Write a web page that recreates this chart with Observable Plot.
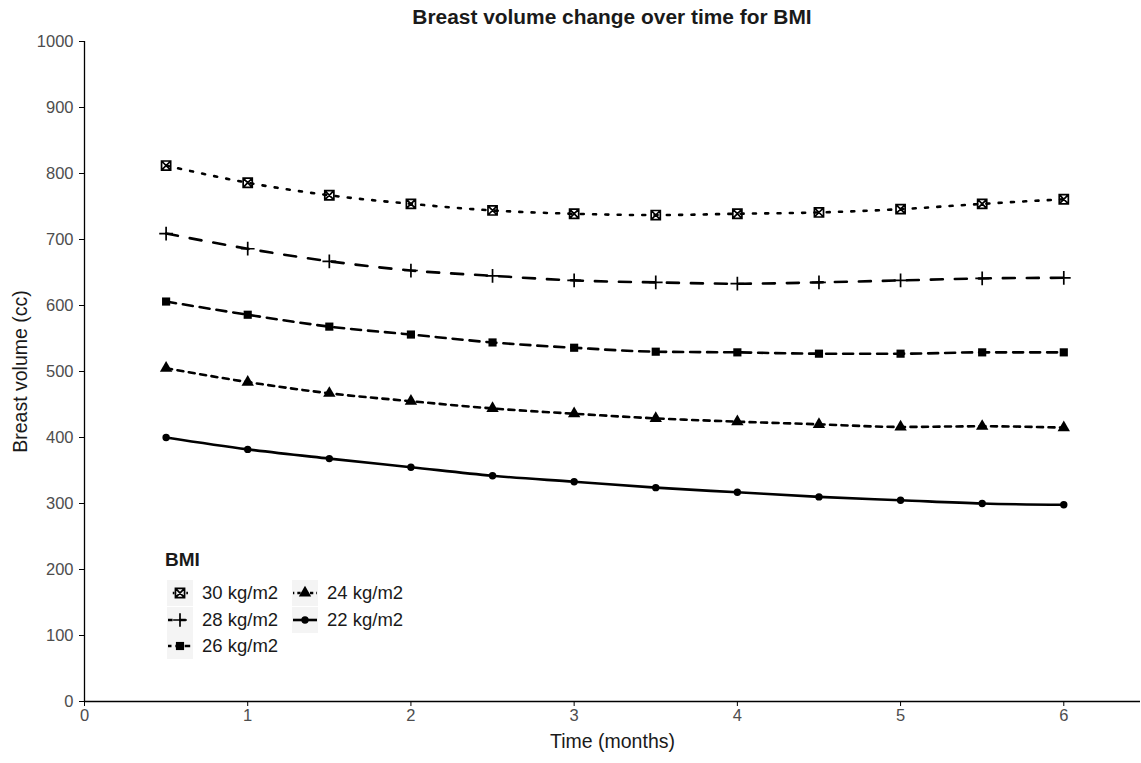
<!DOCTYPE html>
<html><head><meta charset="utf-8">
<script src="https://cdn.jsdelivr.net/npm/d3@7"></script>
<script src="https://cdn.jsdelivr.net/npm/@observablehq/plot@0.6"></script>
<style>
body{margin:0;background:#fff;font-family:"Liberation Sans",Arial,sans-serif;}
#wrap{position:relative;width:1141px;height:763px;overflow:hidden;}
#title{position:absolute;left:84px;width:1056px;top:4px;text-align:center;font-weight:bold;font-size:20.9px;color:#1a1a1a;line-height:26px;}
#legend{position:absolute;left:165px;top:548px;width:300px;height:120px;color:#1a1a1a;}
#legend .lt{position:absolute;left:0;top:0;font-weight:bold;font-size:19px;line-height:24px;}
#legend .it{position:absolute;font-size:18.5px;line-height:26px;white-space:nowrap;}
#legend svg{position:absolute;}
svg g[aria-label="y-axis tick label"] text, svg g[aria-label="x-axis tick label"] text{fill:#4d4d4d;}
svg g[aria-label="y-axis label"] text, svg g[aria-label="x-axis label"] text{font-size:19.5px;fill:#1a1a1a;}
</style></head><body>
<div id="wrap"><div id="chart"></div><div id="title">Breast volume change over time for BMI</div><div id="legend"></div></div>
<script>
const months = [0.5, 1, 1.5, 2, 2.5, 3, 3.5, 4, 4.5, 5, 5.5, 6];
const bmi30 = [812, 786, 767, 754, 744, 739, 737, 739, 741, 746, 754, 761];
const bmi28 = [709, 686, 667, 653, 645, 638, 635, 633, 635, 638, 641, 642];
const bmi26 = [606, 586, 568, 556, 544, 536, 530, 529, 527, 527, 529, 529];
const bmi24 = [505, 484, 467, 455, 444, 436, 429, 424, 420, 416, 417, 415];
const bmi22 = [400, 382, 368, 355, 342, 333, 324, 317, 310, 305, 300, 298];
const seriesNames = ["30 kg/m2", "28 kg/m2", "26 kg/m2", "24 kg/m2", "22 kg/m2"];
const seriesValues = [bmi30, bmi28, bmi26, bmi24, bmi22];
const xTicks = [0, 1, 2, 3, 4, 5, 6];
const yTicks = [0, 100, 200, 300, 400, 500, 600, 700, 800, 900, 1000];

// styles (not data)
const squareCross = {draw(ctx, size){ const h = Math.sqrt(size/Math.PI)*0.95;
  ctx.moveTo(-h,-h); ctx.lineTo(h,-h); ctx.lineTo(h,h); ctx.lineTo(-h,h); ctx.closePath();
  ctx.moveTo(-h,-h); ctx.lineTo(h,h); ctx.moveTo(h,-h); ctx.lineTo(-h,h);}};
const styles = [
  {dash:"3,9.3", symbol:squareCross, r:4.8, fill:"none", stroke:"#000", sw:1.7},
  {dash:"12,12", symbol:"plus", r:4.5, fill:"none", stroke:"#000", sw:1.7},
  {dash:"10,7", symbol:"square", r:4.6, fill:"#000", stroke:"none", sw:0},
  {dash:"6,5.5", symbol:"triangle", r:4.6, fill:"#000", stroke:"none", sw:0},
  {dash:null, symbol:"circle", r:3.7, fill:"#000", stroke:"none", sw:0}
];

const data = seriesNames.map((name, i) => months.map((m, j) => ({series: name, month: m, value: seriesValues[i][j]})));

const marks = [];
data.forEach((rows, i) => {
  const s = styles[i];
  marks.push(Plot.line(rows, {x:"month", y:"value", stroke:"#000", strokeWidth:2.6, strokeDasharray:s.dash, curve:"monotone-x"}));
});
data.forEach((rows, i) => {
  const s = styles[i];
  marks.push(Plot.dot(rows, {x:"month", y:"value", symbol:()=>s.symbol, r:s.r, fill:s.fill, stroke:s.stroke, strokeWidth:s.sw}));
});

const chart = Plot.plot({
  width: 1141, height: 763,
  marginLeft: 84, marginRight: 1, marginTop: 41, marginBottom: 62,
  style: {fontFamily: '"Liberation Sans", Arial, sans-serif', background: "#fff", overflow: "visible"},
  x: {domain: [0, 6.47]},
  y: {domain: [0, 1000]},
  symbol: {type: "identity"},
  marks: [
    Plot.axisX({ticks: xTicks, tickSize: 5, tickPadding: 3, fontSize: 16.5, tickFormat: d => String(d),
      label: "Time (months)", labelAnchor: "center", labelArrow: "none", labelOffset: 46}),
    Plot.axisY({ticks: yTicks, tickSize: 5, tickPadding: 6, fontSize: 16.5, tickFormat: d => String(d),
      label: "Breast volume (cc)", labelAnchor: "center", labelArrow: "none", labelOffset: 71}),
    Plot.ruleX([0], {stroke: "#000", strokeWidth: 1.3}),
    Plot.ruleY([0], {stroke: "#000", strokeWidth: 1.3}),
    ...marks
  ]
});
document.getElementById("chart").appendChild(chart);

// legend
const leg = d3.select("#legend");
leg.append("div").attr("class", "lt").text("BMI");
seriesNames.forEach((name, i) => {
  const col = i < 3 ? 0 : 1, row = i < 3 ? i : i - 3;
  const top = 32 + row * 26.5;
  const kx = col === 0 ? 2 : 127;
  const s = styles[i];
  const svg = leg.append("svg").attr("width", 26).attr("height", 26).style("left", kx + "px").style("top", top + "px");
  svg.append("rect").attr("width", 26).attr("height", 26).attr("fill", "#f4f4f4");
  svg.append("line").attr("x1", 1).attr("x2", 25).attr("y1", 13).attr("y2", 13).attr("stroke", "#000").attr("stroke-width", 2.6)
    .attr("stroke-dasharray", s.dash ? s.dash.split(",").map(v => +v * 0.55).join(",") : null)
    .attr("stroke-dashoffset", s.dash ? 2 : null);
  const symType = typeof s.symbol === "string" ? ({plus: d3.symbolPlus, square: d3.symbolSquare, triangle: d3.symbolTriangle, circle: d3.symbolCircle})[s.symbol] : s.symbol;
  svg.append("path").attr("transform", "translate(13,13)").attr("d", d3.symbol(symType, Math.PI * s.r * s.r)())
    .attr("fill", s.fill === "none" ? "#f4f4f4" : s.fill).attr("stroke", s.stroke).attr("stroke-width", s.sw);
  leg.append("div").attr("class", "it").style("left", (kx + 35) + "px").style("top", top + "px").text(name);
});
</script>
</body></html>
